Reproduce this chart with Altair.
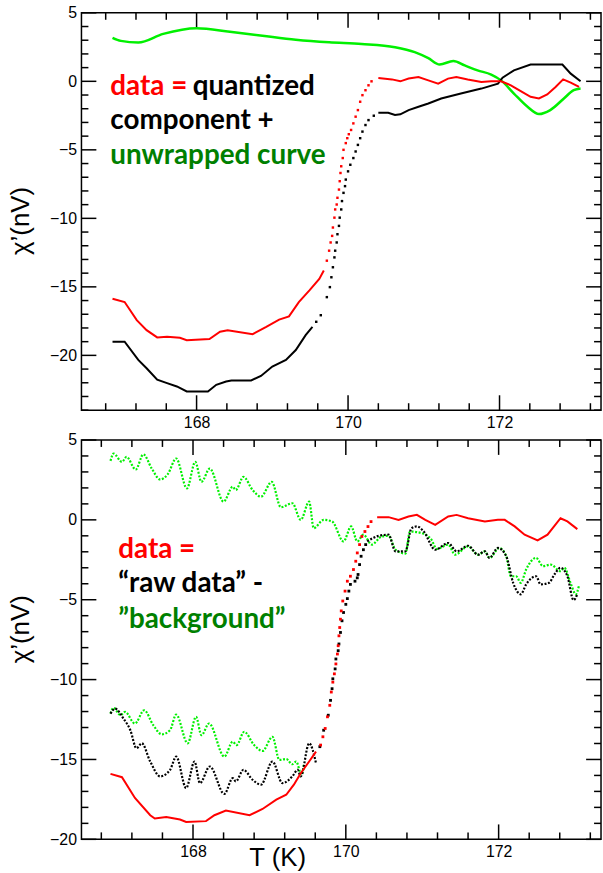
import altair as alt
import pandas as pd

# ---------------- upper panel: data = quantized component + unwrapped curve -------------
top_green_T = [166.89, 167.00, 167.23, 167.56, 168.00, 168.44, 168.87, 169.31, 169.75, 170.18,
               170.62, 170.88, 171.06, 171.21, 171.39, 171.54, 171.71, 171.89, 172.02, 172.19,
               172.37, 172.52, 172.67, 172.85, 172.98, 173.07]
top_green_V = [3.17, 2.95, 2.83, 3.46, 3.87, 3.62, 3.33, 3.04, 2.85, 2.73,
               2.49, 2.13, 1.69, 1.23, 1.48, 1.16, 0.80, 0.49, 0.07, -0.89,
               -1.86, -2.39, -2.10, -1.25, -0.65, -0.53]

top_red_low_T = [166.89, 167.05, 167.21, 167.34, 167.48, 167.61, 167.78, 167.87, 168.17, 168.31,
                 168.41, 168.74, 168.92, 169.09, 169.22, 169.35, 169.49, 169.62, 169.68]
top_red_low_V = [-15.87, -16.11, -17.43, -18.16, -18.69, -18.64, -18.72, -18.89, -18.81, -18.28,
                 -18.16, -18.45, -17.92, -17.39, -17.15, -16.11, -15.26, -14.42, -13.81]
top_red_step_T = [169.72, 169.75, 169.77, 169.79, 169.80, 169.82, 169.83, 169.85, 169.86, 169.88,
                  169.89, 169.90, 169.91, 169.93, 169.94, 169.97, 169.99, 170.01, 170.04, 170.07,
                  170.10, 170.13, 170.16, 170.19, 170.23, 170.27, 170.31]
top_red_step_V = [-13.09, -12.36, -11.76, -11.28, -10.67, -9.95, -9.35, -8.99, -8.50, -7.90,
                  -7.29, -6.69, -6.20, -5.60, -5.00, -4.51, -4.15, -3.86, -3.55, -3.07,
                  -2.58, -2.10, -1.49, -1.01, -0.65, -0.29, 0.00]
top_red_high_T = [170.40, 170.58, 170.69, 170.80, 170.93, 171.06, 171.19, 171.32, 171.43, 171.58,
                  171.76, 171.89, 172.02, 172.15, 172.28, 172.41, 172.52, 172.63, 172.74, 172.84,
                  172.94, 173.05]
top_red_high_V = [0.25, 0.14, 0.00, 0.20, 0.32, 0.07, -0.17, 0.20, 0.32, 0.14,
                  -0.05, 0.00, 0.00, -0.29, -0.72, -1.13, -1.25, -0.96, -0.41, 0.14,
                  -0.09, -0.41]

top_black_low_T = [166.89, 167.05, 167.23, 167.34, 167.48, 167.61, 167.74, 167.87, 168.15, 168.26,
                   168.39, 168.46, 168.72, 168.85, 169.00, 169.18, 169.31, 169.44, 169.53]
top_black_low_V = [-19.01, -19.00, -20.33, -20.94, -21.78, -22.03, -22.27, -22.63, -22.63, -22.15,
                   -21.91, -21.83, -21.83, -21.50, -20.82, -20.33, -19.61, -18.52, -17.92]
top_black_step_T = [169.58, 169.64, 169.72, 169.76, 169.78, 169.80, 169.82, 169.83, 169.85, 169.86,
                    169.88, 169.89, 169.91, 169.92, 169.94, 169.96, 169.97, 170.00, 170.03, 170.07,
                    170.10, 170.13, 170.16, 170.19, 170.23, 170.27, 170.34]
top_black_step_V = [-17.55, -17.07, -15.75, -15.02, -14.30, -13.57, -12.85, -12.36, -11.76, -11.16,
                    -10.55, -9.95, -9.35, -8.74, -8.14, -7.65, -7.17, -6.57, -6.09, -5.60,
                    -5.12, -4.64, -4.15, -3.67, -3.19, -2.83, -2.51]
top_black_high_T = [170.40, 170.53, 170.62, 170.69, 170.80, 170.93, 171.06, 171.23, 171.49, 171.76,
                    171.98, 172.04, 172.19, 172.41, 172.83, 172.94, 173.07]
top_black_high_V = [-2.29, -2.29, -2.46, -2.41, -2.10, -1.86, -1.62, -1.25, -0.89, -0.53,
                    -0.17, 0.27, 0.80, 1.23, 1.23, 0.56, 0.00]

# ---------------- lower panel: data = "raw data" - "background" -------------------------
bot_bg_T = [166.92, 166.96, 167.07, 167.13, 167.25, 167.35, 167.46, 167.57, 167.67, 167.78,
            167.92, 168.03, 168.11, 168.22, 168.40, 168.52, 168.56, 168.66, 168.78, 168.89,
            169.03, 169.15, 169.30, 169.41, 169.52, 169.58, 169.71, 169.82, 169.97, 170.07,
            170.15, 170.23, 170.34, 170.47, 170.56, 170.65, 170.78, 170.84, 170.99, 171.12,
            171.19, 171.34, 171.43, 171.60, 171.73, 171.82, 171.88, 172.01, 172.10, 172.16,
            172.23, 172.29, 172.36, 172.49, 172.58, 172.68, 172.81, 172.86, 172.94, 173.01,
            173.05]
bot_bg_V = [3.69, 4.15, 3.63, 3.94, 3.15, 4.10, 3.21, 2.53, 2.86, 3.84,
            1.97, 3.63, 2.38, 3.21, 1.14, 2.07, 1.87, 2.69, 1.87, 1.45,
            2.38, 0.79, 1.04, 0.00, 1.14, -0.52, 0.00, -0.10, -1.35, -0.41,
            -1.35, -0.93, -1.55, -1.04, -1.00, -1.87, -2.11, -0.73, -0.83, -1.24,
            -1.82, -1.55, -2.18, -1.66, -2.18, -1.97, -2.38, -1.76, -2.28, -3.53,
            -3.53, -3.94, -3.11, -2.38, -2.90, -2.80, -3.21, -3.00, -3.94, -4.66,
            -4.15]

bot_bg_shift_T = [166.92, 166.96, 167.05, 167.11, 167.24, 167.36, 167.48, 167.59, 167.70, 167.78,
                  167.93, 168.04, 168.11, 168.21, 168.41, 168.52, 168.57, 168.67, 168.80, 168.91,
                  169.04, 169.13, 169.22, 169.30, 169.35, 169.42, 169.45]
bot_bg_shift_V = [-12.13, -11.77, -12.23, -12.02, -12.75, -11.92, -12.85, -13.43, -13.16, -12.19,
                  -13.99, -12.33, -13.48, -12.75, -14.82, -13.89, -14.10, -13.27, -14.10, -14.47,
                  -13.58, -15.03, -14.97, -15.30, -15.13, -15.96, -15.34]

bot_raw_low_T = [166.92, 166.98, 167.09, 167.18, 167.26, 167.33, 167.44, 167.57, 167.70, 167.78,
                 167.91, 168.02, 168.09, 168.22, 168.41, 168.52, 168.56, 168.66, 168.78, 168.89,
                 169.04, 169.17, 169.30, 169.37, 169.41, 169.52, 169.61]
bot_raw_low_V = [-12.13, -11.82, -12.44, -13.17, -14.30, -13.99, -15.13, -16.06, -15.65, -14.82,
                 -16.79, -15.13, -16.48, -15.44, -17.16, -16.17, -16.37, -15.65, -16.27, -16.58,
                 -15.13, -16.48, -16.06, -15.65, -16.06, -13.99, -15.24]
bot_raw_step_T = [169.66, 169.71, 169.77, 169.80, 169.82, 169.83, 169.86, 169.87, 169.90, 169.91,
                  169.93, 169.95, 169.97, 170.00, 170.02, 170.04, 170.06, 170.12, 170.15, 170.16,
                  170.18, 170.20, 170.23, 170.26]
bot_raw_step_V = [-14.20, -13.17, -12.23, -11.30, -10.57, -9.95, -9.33, -8.71, -8.19, -7.77,
                  -7.05, -6.32, -5.80, -5.29, -4.93, -4.46, -4.04, -3.84, -3.63, -3.42,
                  -2.80, -2.28, -1.87, -1.55]
bot_raw_high_T = [170.28, 170.43, 170.56, 170.65, 170.78, 170.86, 170.93, 171.02, 171.17, 171.34,
                  171.45, 171.60, 171.73, 171.82, 171.88, 171.99, 172.10, 172.19, 172.29, 172.36,
                  172.49, 172.55, 172.66, 172.73, 172.81, 172.90, 172.98, 173.03]
bot_raw_high_V = [-1.35, -1.00, -0.93, -1.97, -1.97, -0.52, -0.41, -0.73, -1.87, -1.45,
                  -1.97, -1.62, -2.18, -1.97, -2.38, -1.76, -2.28, -3.94, -4.66, -4.04,
                  -3.53, -4.04, -3.94, -3.42, -3.00, -3.53, -5.02, -4.66]

bot_red_low_T = [166.92, 167.07, 167.24, 167.44, 167.50, 167.65, 167.83, 167.91, 168.17, 168.28,
                 168.43, 168.74, 168.91, 169.09, 169.22, 169.32, 169.41, 169.52, 169.61]
bot_red_low_V = [-15.90, -16.11, -17.41, -18.49, -18.70, -18.61, -18.76, -18.91, -18.86, -18.49,
                 -18.20, -18.49, -18.10, -17.52, -17.21, -16.58, -15.86, -15.13, -14.51]
bot_red_step_T = [169.67, 169.70, 169.73, 169.76, 169.79, 169.81, 169.83, 169.85, 169.87, 169.89,
                  169.90, 169.91, 169.92, 169.93, 169.94, 169.96, 169.99, 170.02, 170.06, 170.10,
                  170.13, 170.15, 170.18, 170.21, 170.25, 170.29, 170.33]
bot_red_step_V = [-14.10, -13.58, -13.06, -12.33, -11.61, -10.78, -10.16, -9.64, -9.02, -8.40,
                  -7.88, -7.26, -6.74, -6.22, -5.70, -5.08, -4.46, -3.84, -3.53, -3.11,
                  -2.59, -2.07, -1.55, -1.04, -0.73, -0.42, -0.11]
bot_red_high_T = [170.41, 170.56, 170.69, 170.82, 170.93, 171.04, 171.17, 171.34, 171.45, 171.60,
                  171.82, 171.99, 172.08, 172.21, 172.34, 172.51, 172.64, 172.81, 172.90, 173.03]
bot_red_high_V = [0.17, 0.17, 0.00, 0.21, 0.31, 0.00, -0.31, 0.21, 0.31, 0.10,
                  -0.10, 0.00, 0.00, -0.41, -0.93, -1.29, -0.93, 0.10, -0.10, -0.58]

# ---------------- axes ----------------------------------------------------------------
X_MAJOR = [168, 170, 172]
X_MINOR = [166.8, 167.2, 167.6, 168.4, 168.8, 169.2, 169.6, 170.4, 170.8, 171.2,
           171.6, 172.4, 172.8, 173.2]
Y_MAJOR = [5, 0, -5, -10, -15, -20]
TOP_Y_MINOR = [v for v in range(-24, 5) if v % 5]
BOT_Y_MINOR = [v for v in range(-19, 5) if v % 5]

TOP_X_DOMAIN = [166.48, 173.34]
BOT_X_DOMAIN = [166.54, 173.34]
TOP_Y_DOMAIN = [-24, 5]
BOT_Y_DOMAIN = [-20, 5]

top_notes = [("data =", "#ff0000", 29, 83), ("quantized", "#000000", 112, 83),
             ("component +", "#000000", 29, 117), ("unwrapped curve", "#008000", 29, 152)]
bot_notes = [("data =", "#ff0000", 37, 119), ("\u201craw data\u201d -", "#000000", 37, 153),
             ("\u201dbackground\u201d", "#008000", 37, 189)]

RED, BLACK, LIME = "#ff0000", "#000000", "#00f000"
W = 523
TOP_H = 400
BOT_H = 402
MAJOR_LEN, MINOR_LEN = 15, 7
FONT = "Liberation Sans"


def x_axis(title=None):
    kw = dict(values=X_MAJOR, ticks=False, domain=False, grid=False, labelFlush=False,
              labelFont=FONT, labelFontSize=16, labelPadding=4, labelColor="black", format="d")
    if title:
        kw.update(title=title, titleX=197, titleY=26, titleAlign="center",
                  titleBaseline="alphabetic", titleFont=FONT, titleFontSize=26,
                  titleFontWeight="normal", titleColor="black")
    else:
        kw.update(title=None)
    return alt.Axis(**kw)


def y_axis(title_y):
    return alt.Axis(values=Y_MAJOR, ticks=False, domain=False, grid=False,
                    labelFont=FONT, labelFontSize=16, labelPadding=5, labelColor="black",
                    format="d", title="\u03c7\u2019(nV)", titleX=-53, titleY=title_y,
                    titleAngle=270, titleAlign="center", titleBaseline="alphabetic",
                    titleFont=FONT, titleFontSize=26, titleFontWeight="normal",
                    titleColor="black")


class Panel:
    def __init__(self, xdom, ydom, h, y_minor, title_y, x_title=None):
        self.xs = alt.Scale(domain=xdom, nice=False, zero=False)
        self.ys = alt.Scale(domain=ydom, nice=False, zero=False)
        self.xa = x_axis(x_title)
        self.ya = y_axis(title_y)
        self.h = h
        self.y_minor = y_minor

    def X(self, field):
        return alt.X(field, scale=self.xs, axis=self.xa)

    def Y(self, field):
        return alt.Y(field, scale=self.ys, axis=self.ya)

    def line(self, T, V, color, dash=None, width=2.0, interp="linear"):
        kw = dict(color=color, strokeWidth=width, interpolate=interp)
        if dash:
            kw["strokeDash"] = dash
        df = pd.DataFrame({"T": T, "V": V, "i": list(range(len(T)))})
        return alt.Chart(df).mark_line(**kw).encode(
            x=self.X("T:Q"), y=self.Y("V:Q"), order="i:Q")

    def dots(self, T, V, color, size=6):
        df = pd.DataFrame({"T": T, "V": V})
        return alt.Chart(df).mark_square(size=size, color=color, opacity=1).encode(
            x=self.X("T:Q"), y=self.Y("V:Q"))

    def ticks(self):
        out = []
        for vals, L in ((X_MAJOR, MAJOR_LEN), (X_MINOR, MINOR_LEN)):
            base = alt.Chart(pd.DataFrame({"t": vals})).mark_rule(color="black", strokeWidth=1.5)
            out.append(base.encode(x=self.X("t:Q"), y=alt.value(self.h), y2=alt.value(self.h - L)))
            out.append(base.encode(x=self.X("t:Q"), y=alt.value(0), y2=alt.value(L)))
        for vals, L in ((Y_MAJOR, MAJOR_LEN), (self.y_minor, MINOR_LEN)):
            base = alt.Chart(pd.DataFrame({"t": vals})).mark_rule(color="black", strokeWidth=1.5)
            out.append(base.encode(y=self.Y("t:Q"), x=alt.value(0), x2=alt.value(L)))
            out.append(base.encode(y=self.Y("t:Q"), x=alt.value(W), x2=alt.value(W - L)))
        return out


def notes(items):
    out = []
    for text, color, x, y in items:
        out.append(
            alt.Chart(pd.DataFrame({"s": [text]})).mark_text(
                align="left", baseline="alphabetic", font="Lato", fontWeight="bold",
                fontSize=28, color=color,
            ).encode(text="s:N", x=alt.value(x), y=alt.value(y))
        )
    return out


# upper panel
P = Panel(TOP_X_DOMAIN, TOP_Y_DOMAIN, TOP_H, TOP_Y_MINOR, 209)
top = alt.layer(
    *P.ticks(),
    P.line(top_green_T, top_green_V, LIME, width=2.5, interp="monotone"),
    P.line(top_black_low_T, top_black_low_V, BLACK),
    P.dots(top_black_step_T, top_black_step_V, BLACK),
    P.line(top_black_high_T, top_black_high_V, BLACK),
    P.line(top_red_low_T, top_red_low_V, RED),
    P.dots(top_red_step_T, top_red_step_V, RED),
    P.line(top_red_high_T, top_red_high_V, RED),
    *notes(top_notes),
).properties(width=W, height=TOP_H)

# lower panel
Q = Panel(BOT_X_DOMAIN, BOT_Y_DOMAIN, BOT_H, BOT_Y_MINOR, 190, x_title="T (K)")
dotted = [2, 1.6]
bottom = alt.layer(
    *Q.ticks(),
    Q.line(bot_bg_T, bot_bg_V, LIME, dash=dotted, width=2.2, interp="monotone"),
    Q.line(bot_bg_shift_T, bot_bg_shift_V, LIME, dash=dotted, width=2.2, interp="monotone"),
    Q.line(bot_raw_low_T, bot_raw_low_V, BLACK, dash=dotted, width=2.2, interp="monotone"),
    Q.dots(bot_raw_step_T, bot_raw_step_V, BLACK, size=8),
    Q.line(bot_raw_high_T, bot_raw_high_V, BLACK, dash=dotted, width=2.2, interp="monotone"),
    Q.line(bot_red_low_T, bot_red_low_V, RED),
    Q.dots(bot_red_step_T, bot_red_step_V, RED, size=8),
    Q.line(bot_red_high_T, bot_red_high_V, RED),
    *notes(bot_notes),
).properties(width=W, height=BOT_H)

chart = alt.vconcat(top, bottom, spacing=0).properties(
    padding={"left": 7, "top": 1, "right": 0, "bottom": 0},
    background="white",
).configure_view(stroke="black", strokeWidth=1.5)

chart.save("out.html", embed_options={"renderer": "svg", "actions": False})
